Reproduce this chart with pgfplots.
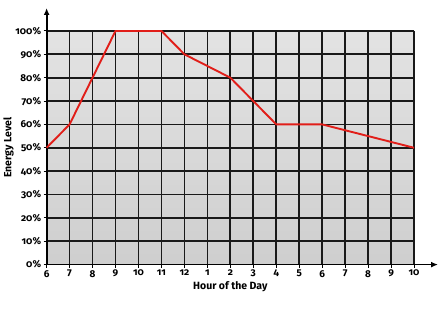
\documentclass[border=0pt]{standalone}
\usepackage{fontspec}
\setmainfont[Numbers=OldStyle]{Fira Sans}
\usepackage{pgfplots}
\pgfplotsset{compat=1.18}
\usetikzlibrary{arrows.meta}
\definecolor{linered}{RGB}{225,30,25}
\begin{document}
\begin{tikzpicture}
\begin{axis}[
  scale only axis, width=368pt, height=234pt,
  xmin=0, xmax=16, ymin=0, ymax=100,
  axis lines=left,
  axis line style={line width=1.8pt},
  x axis line style={-{Latex[length=7pt,width=6pt]}, shorten >=-24pt},
  y axis line style={-{Latex[length=7pt,width=6pt]}, shorten >=-23pt},
  axis background/.style={top color=black!11, bottom color=black!19},
  xtick={0,...,16},
  xticklabels={6,7,8,9,10,11,12,1,2,3,4,5,6,7,8,9,10},
  ytick={0,10,...,100},
  yticklabel={\pgfmathprintnumber{\tick}\%},
  /pgf/number format/assume math mode=true,
  grid=major,
  major grid style={black!90, line width=1.7pt},
  tick style={black, line width=1pt},
  major tick length=3pt,
  tick align=outside,
  ticklabel style={font=\fontsize{10}{11}\selectfont\bfseries},
  xticklabel style={yshift=1pt},
  yticklabel style={xshift=1pt},
  xlabel={\bfseries Hour of the Day},
  ylabel={\bfseries Energy Level},
  label style={font=\fontsize{10.5}{12}\selectfont},
  xlabel style={yshift=3pt},
  ylabel style={yshift=-5pt},
  clip=false,
  set layers,
]
\addplot[linered, line width=1.9pt, on layer=axis foreground] coordinates {
  (0,50) (1,60) (2,80) (3,100) (4,100) (5,100) (6,90) (7,85) (8,80) (9,70) (10,60) (11,60) (12,60) (16,50)
};
\coordinate (sw) at (rel axis cs:0,0);
\coordinate (ne) at (rel axis cs:1,1);
\end{axis}
\path ([shift={(-46pt,-46pt)}]sw) rectangle ([shift={(29pt,31pt)}]ne);
\end{tikzpicture}
\end{document}
